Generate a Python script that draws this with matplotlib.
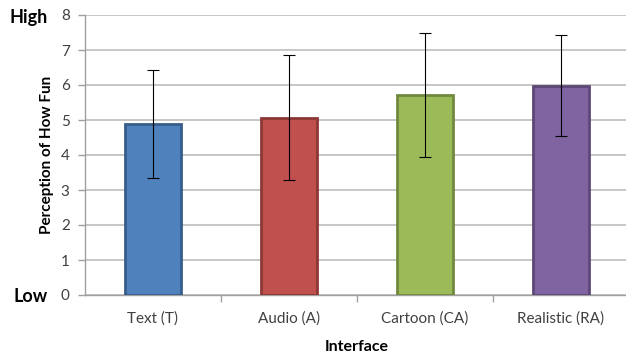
import matplotlib.pyplot as plt
import numpy as np

plt.rcParams["font.family"] = ["Lato", "DejaVu Sans"]

# data
interfaces = ["Text (T)", "Audio (A)", "Cartoon (CA)", "Realistic (RA)"]
fun_means = [4.89, 5.07, 5.71, 5.98]
fun_err = [1.54, 1.78, 1.77, 1.45]
fill_colors = ["#4F81BD", "#C0504D", "#9BBB59", "#8064A2"]
edge_colors = ["#385D8A", "#8C3836", "#71893F", "#5C4776"]

fig = plt.figure(figsize=(6.26, 3.56), dpi=100)
ax = fig.add_axes([85 / 626, 1 - 295 / 356, 544 / 626, 280 / 356])

index = np.arange(len(interfaces))
ax.bar(index, fun_means, width=0.41, color=fill_colors, edgecolor=edge_colors,
       linewidth=2, zorder=3)
ax.errorbar(index, fun_means, yerr=fun_err, fmt="none", ecolor="black",
            elinewidth=0.8, capsize=4.5, capthick=0.8, zorder=4)

ax.set_xlim(-0.5, len(interfaces) - 0.5)
ax.set_ylim(0, 8)
ax.set_yticks(range(0, 9))
ax.yaxis.grid(True, color="#BDBDBD", linewidth=1.2, zorder=0)
ax.set_axisbelow(True)

# category labels centred, tick marks on the boundaries
ax.set_xticks(index)
ax.set_xticklabels(interfaces, fontsize=11, color="#404040")
ax.set_xticks(np.arange(0.5, len(interfaces) - 0.5), minor=True)
ax.tick_params(axis="x", which="major", length=0, pad=12)
ax.tick_params(axis="x", which="minor", length=5, color="#A0A0A0", width=1)
ax.tick_params(axis="y", length=5, color="#A0A0A0", width=1,
               labelsize=11, labelcolor="#404040", pad=6)

for side in ["top", "right"]:
    ax.spines[side].set_visible(False)
for side in ["left", "bottom"]:
    ax.spines[side].set_color("#A0A0A0")
    ax.spines[side].set_linewidth(1)

ax.set_ylabel("Perception of How Fun", fontsize=11, fontweight="bold",
              color="black", labelpad=5)
ax.set_xlabel("Interface", fontsize=11.5, fontweight="bold", labelpad=10)

fig.text(48 / 626, 1 - 18 / 356, "High", fontsize=13, fontweight="bold",
         va="center", ha="right")
fig.text(48 / 626, 1 - 296 / 356, "Low", fontsize=13, fontweight="bold",
         va="center", ha="right")

fig.savefig("out.png", dpi=100)
